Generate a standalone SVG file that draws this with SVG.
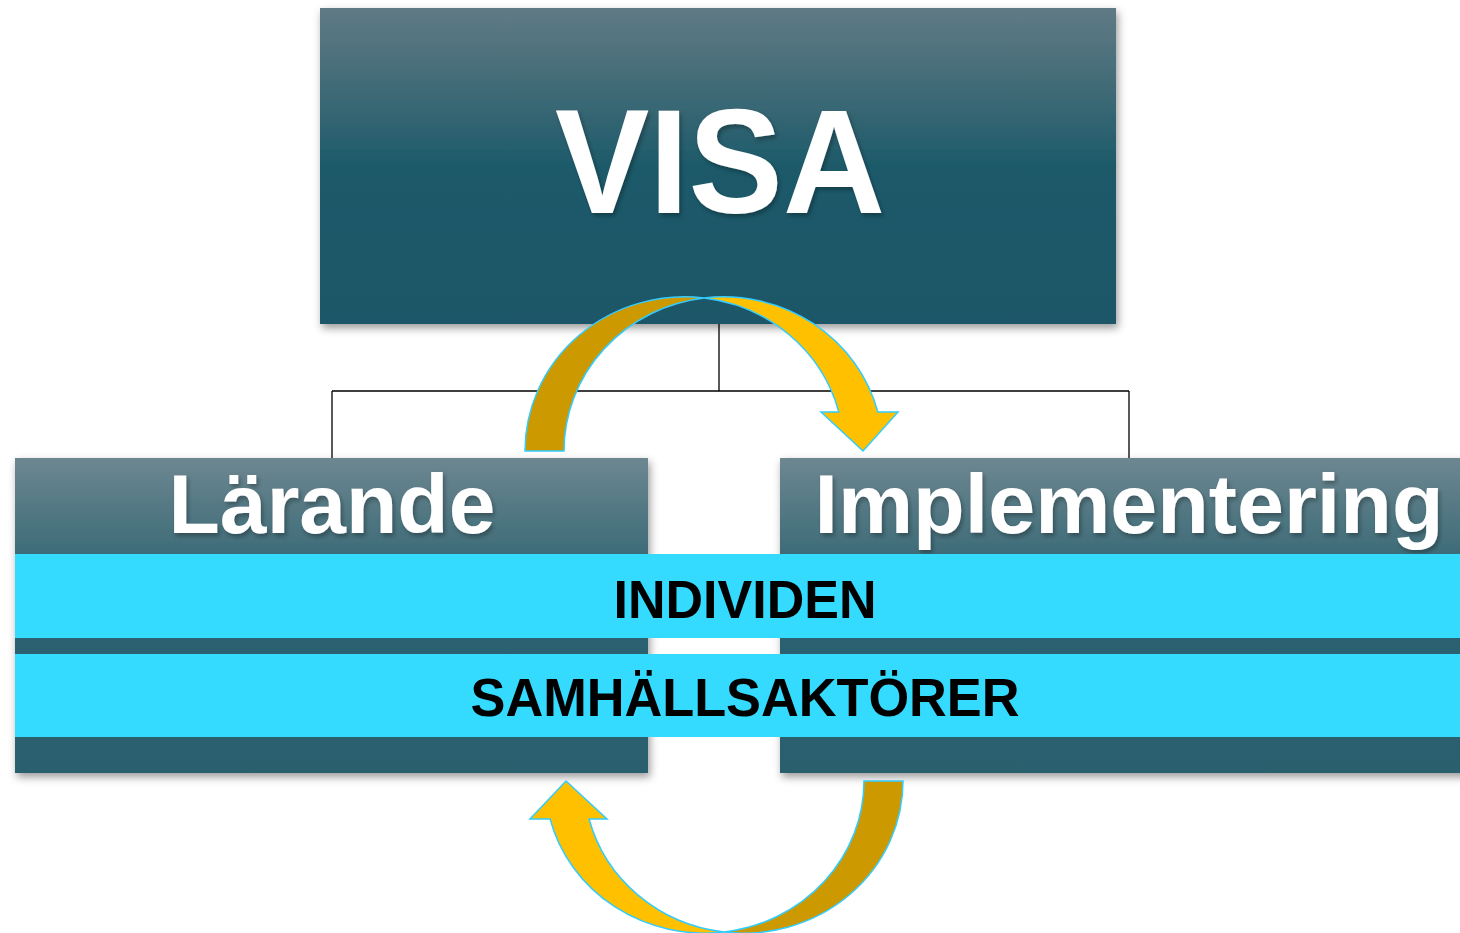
<svg xmlns="http://www.w3.org/2000/svg" width="1460" height="933" viewBox="0 0 1460 933">
  <defs>
    <linearGradient id="gVisa" x1="0" y1="0" x2="0" y2="1">
      <stop offset="0" stop-color="#607a85"/>
      <stop offset="0.3" stop-color="#3a6874"/>
      <stop offset="0.5" stop-color="#1d5a6a"/>
      <stop offset="1" stop-color="#1a5767"/>
    </linearGradient>
    <linearGradient id="gBox" x1="0" y1="0" x2="0" y2="1">
      <stop offset="0" stop-color="#6d8791"/>
      <stop offset="0.3" stop-color="#3e6c78"/>
      <stop offset="0.45" stop-color="#2b6271"/>
      <stop offset="1" stop-color="#2a5f6e"/>
    </linearGradient>
    <filter id="boxShadow" x="-5%" y="-5%" width="115%" height="120%">
      <feDropShadow dx="2" dy="4" stdDeviation="4" flood-color="#000" flood-opacity="0.4"/>
    </filter>
    <filter id="txtShadow" x="-5%" y="-5%" width="115%" height="120%">
      <feDropShadow dx="2" dy="3" stdDeviation="2" flood-color="#000" flood-opacity="0.3"/>
    </filter>
  </defs>
  <style>
    .title { font-family: "Liberation Sans", Arial, sans-serif; font-weight: bold; fill: #ffffff; text-anchor: middle; }
    .band { fill: #35daff; }
    .bandText { font-family: "Liberation Sans", Arial, sans-serif; font-weight: bold; fill: #000000; text-anchor: middle; font-size: 54px; }
    .conn { stroke: #000000; stroke-width: 1.3; fill: none; }
    .arrDark { fill: #cc9900; stroke: #33ccff; stroke-width: 1.5; stroke-linejoin: miter; }
    .arrBright { fill: #ffc000; stroke: #33ccff; stroke-width: 1.5; stroke-linejoin: miter; }
  </style>
  <rect width="1460" height="933" fill="#ffffff"/>

  <g id="connectors">
    <path class="conn" d="M719 324 V391 M332 391 H1129 M332 391 V458 M1129 391 V458"/>
  </g>

  <g id="node-visa">
    <rect x="320" y="8" width="796" height="316" fill="url(#gVisa)" filter="url(#boxShadow)"/>
    <text class="title" x="720" y="213" font-size="148" textLength="330" lengthAdjust="spacingAndGlyphs" filter="url(#txtShadow)">VISA</text>
  </g>

  <g id="node-larande">
    <rect x="15" y="458" width="633" height="315" fill="url(#gBox)" filter="url(#boxShadow)"/>
    <text class="title" x="332" y="533" font-size="84" filter="url(#txtShadow)">Lärande</text>
  </g>

  <g id="node-implementering">
    <rect x="780" y="458" width="700" height="315" fill="url(#gBox)" filter="url(#boxShadow)"/>
    <text class="title" x="1129" y="533" font-size="84" textLength="629" lengthAdjust="spacingAndGlyphs" filter="url(#txtShadow)">Implementering</text>
  </g>

  <g id="node-individen">
    <rect class="band" x="15" y="554" width="1445" height="84"/>
    <text class="bandText" x="745" y="618" textLength="263" lengthAdjust="spacingAndGlyphs">INDIVIDEN</text>
  </g>

  <g id="node-samhallsaktorer">
    <rect class="band" x="15" y="654" width="1445" height="83"/>
    <text class="bandText" x="745" y="716" textLength="549" lengthAdjust="spacingAndGlyphs">SAMHÄLLSAKTÖRER</text>
  </g>

  <g id="cycle-arrows">
    <path class="arrDark" d="M525 451 A159.5 154.2 0 0 1 704 298 A159.5 154.2 0 0 0 564 451 Z"/>
    <path class="arrBright" d="M704 298 A159.5 154.2 0 0 1 877.8 412 L898 412 L863 451 L821 412 L838.8 412 A159.5 154.2 0 0 0 704 298 Z"/>
    <path class="arrDark" d="M903 781 A159.5 152.1 0 0 1 724 932 A159.5 152.1 0 0 0 864 781 Z"/>
    <path class="arrBright" d="M724 932 A159.5 152.1 0 0 1 550.1 819 L530 819 L566 781 L607 819 L589.1 819 A159.5 152.1 0 0 0 724 932 Z"/>
  </g>
</svg>
